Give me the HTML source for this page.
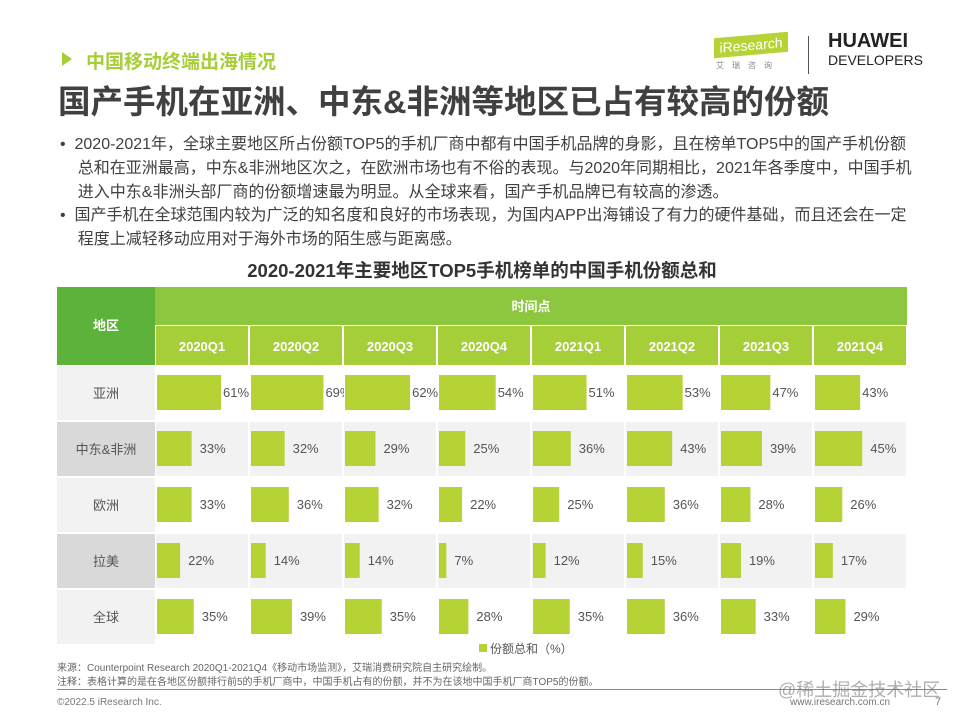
<!DOCTYPE html>
<html><head><meta charset="utf-8">
<style>
body{margin:0;width:960px;height:720px;background:#fff;font-family:"Liberation Sans","Noto Sans CJK SC",sans-serif;position:relative;overflow:hidden;color:#404040}
.abs{position:absolute}
.b{position:absolute;left:60px;width:890px;font-size:16px;line-height:24px;color:#404040;white-space:nowrap}
</style></head><body>
<div class="abs" style="left:62px;top:52px;width:0;height:0;border-left:10px solid #a6ce39;border-top:7px solid transparent;border-bottom:7px solid transparent"></div>
<div class="abs" style="left:86px;top:47px;font-size:19px;color:#a6ce39;font-weight:bold">中国移动终端出海情况</div>
<div class="abs" style="left:58px;top:76px;font-size:32.5px;color:#404040;font-weight:bold">国产手机在亚洲、中东&amp;非洲等地区已占有较高的份额</div>
<div class="abs" style="left:714px;top:35px;width:74px;height:20px;background:#b5d334;color:#fff;font-size:14px;line-height:20px;text-align:center;transform:skewY(-5deg)">iResearch</div>
<div class="abs" style="left:716px;top:60px;font-size:8px;color:#888;letter-spacing:8px">艾瑞咨询</div>
<div class="abs" style="left:808px;top:36px;width:1px;height:38px;background:#555"></div>
<div class="abs" style="left:828px;top:30px;font-size:20px;font-weight:bold;color:#222">HUAWEI</div>
<div class="abs" style="left:828px;top:52px;font-size:14px;color:#222">DEVELOPERS</div>
<div class="b" style="top:133px">• &nbsp;2020-2021年，全球主要地区所占份额TOP5的手机厂商中都有中国手机品牌的身影，且在榜单TOP5中的国产手机份额<br>&nbsp;&nbsp;&nbsp;&nbsp;总和在亚洲最高，中东&amp;非洲地区次之，在欧洲市场也有不俗的表现。与2020年同期相比，2021年各季度中，中国手机<br>&nbsp;&nbsp;&nbsp;&nbsp;进入中东&amp;非洲头部厂商的份额增速最为明显。从全球来看，国产手机品牌已有较高的渗透。</div>
<div class="b" style="top:204px">• &nbsp;国产手机在全球范围内较为广泛的知名度和良好的市场表现，为国内APP出海铺设了有力的硬件基础，而且还会在一定<br>&nbsp;&nbsp;&nbsp;&nbsp;程度上减轻移动应用对于海外市场的陌生感与距离感。</div>
<div class="abs" style="left:0;width:964px;top:257px;text-align:center;font-size:18.5px;font-weight:bold;color:#333">2020-2021年主要地区TOP5手机榜单的中国手机份额总和</div>
<svg class="abs" style="left:0;top:0" width="960" height="720" id="chart"></svg>
<div class="abs" style="left:479px;top:644px;width:8px;height:8px;background:#b5d334"></div>
<div class="abs" style="left:490px;top:640px;font-size:12px;color:#555">份额总和（%）</div>
<div class="abs" style="left:57px;top:659px;font-size:10px;color:#666">来源：Counterpoint Research 2020Q1-2021Q4《移动市场监测》，艾瑞消费研究院自主研究绘制。</div>
<div class="abs" style="left:57px;top:673px;font-size:10px;color:#666">注释：表格计算的是在各地区份额排行前5的手机厂商中，中国手机占有的份额，并不为在该地中国手机厂商TOP5的份额。</div>
<div class="abs" style="left:57px;top:689px;width:890px;height:1px;background:#888"></div>
<div class="abs" style="left:57px;top:697px;font-size:10px;color:#777">©2022.5 iResearch Inc.</div>
<div class="abs" style="left:790px;top:697px;font-size:10px;color:#777">www.iresearch.com.cn</div>
<div class="abs" style="left:935px;top:696px;font-size:11px;color:#777">7</div>
<div class="abs" style="left:778px;top:676px;font-size:18px;color:rgba(120,120,120,0.6)">@稀土掘金技术社区</div>
<script>
const quarters=["2020Q1","2020Q2","2020Q3","2020Q4","2021Q1","2021Q2","2021Q3","2021Q4"];
const regions=["亚洲","中东&非洲","欧洲","拉美","全球"];
const asia=[61,69,62,54,51,53,47,43];
const mea=[33,32,29,25,36,43,39,45];
const europe=[33,36,32,22,25,36,28,26];
const latam=[22,14,14,7,12,15,19,17];
const globalShare=[35,39,35,28,35,36,33,29];
const series=[asia,mea,europe,latam,globalShare];
const NS="http://www.w3.org/2000/svg";
const svg=document.getElementById('chart');
const X0=57,RW=98,C0=155,CW=94,H1=287,H2=325,R0=365,RH=56;
const xCol=i=>C0+i*CW;
const yRow=r=>R0+r*RH;
const barW=v=>v*1.05;
function mk(tag,attrs,name){const e=document.createElementNS(NS,tag);for(const k in attrs)e.setAttribute(k,attrs[k]);


svg.appendChild(e);return e;}
function txt(x,y,s,name,opt){const t=mk('text',Object.assign({x:x,y:y,'font-size':13,fill:'#555','font-family':'Liberation Sans, Noto Sans CJK SC, sans-serif'},opt||{}),name);t.textContent=s;return t;}
mk('rect',{x:X0,y:H1,width:RW,height:H2-H1+40,fill:'#5db33a'},'region-header-cell');
txt(X0+RW/2,H1+43,'地区','region-header',{fill:'#fff','font-weight':'bold','text-anchor':'middle'});
mk('rect',{x:C0,y:H1,width:CW*8,height:H2-H1,fill:'#8dc63f'},'time-header-cell');
txt(C0+CW*4,H1+24,'时间点','time-header',{fill:'#fff','font-weight':'bold','text-anchor':'middle'});
quarters.forEach((q,i)=>{
 mk('rect',{x:xCol(i)+1,y:H2+1,width:CW-2,height:39,fill:'#a6ce39'},'quarter-header-cell');
 txt(xCol(i)+CW/2,H2+26,q,'quarter-label',{fill:'#fff','font-weight':'bold','text-anchor':'middle'});
});
regions.forEach((r,ri)=>{
 const y=yRow(ri),odd=ri%2==1;
 mk('rect',{x:X0,y:y+1,width:RW,height:RH-2,fill:odd?'#d9d9d9':'#f2f2f2'},'region-cell');
 txt(X0+RW/2,y+RH/2+5,r,'region-label',{'text-anchor':'middle'});
 series[ri].forEach((v,i)=>{
  mk('rect',{x:xCol(i)+1,y:y+1,width:CW-2,height:RH-2,fill:odd?'#f2f2f2':'#ffffff'},'data-cell');
  const bx=xCol(i)+2;
  mk('rect',{x:bx,y:y+10,width:barW(v),height:35,fill:'#b5d334'},'bar-'+ri+'-'+i);
  txt(bx+barW(v)+(ri==0?2:8),y+RH/2+4,v+'%','value-label');
 });
});
</script>
</body></html>
